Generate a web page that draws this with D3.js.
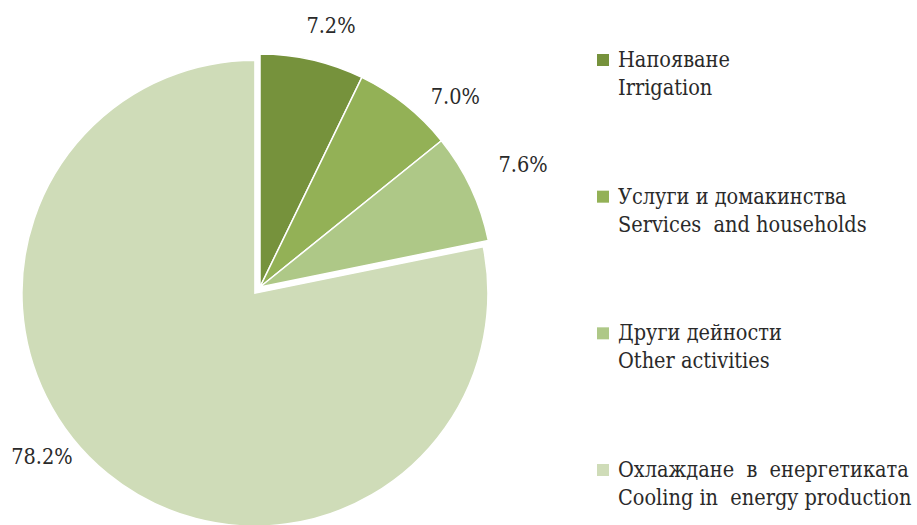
<!DOCTYPE html>
<html>
<head>
<meta charset="utf-8">
<script src="https://cdn.jsdelivr.net/npm/d3@7/dist/d3.min.js"></script>
<style>
  html, body { margin: 0; padding: 0; background: #fff; }
  svg { display: block; }
  svg text { fill: #2a2a2a; white-space: pre; font-family: "DejaVu Serif Condensed", "DejaVu Serif", serif; font-stretch: condensed; }
</style>
</head>
<body>
<svg id="chart" width="917" height="525"></svg>
<script>
// Water use by sector (%)
const categoriesBg = ["Напояване", "Услуги и домакинства", "Други дейности", "Охлаждане  в  енергетиката"];
const categoriesEn = ["Irrigation", "Services  and households", "Other activities", "Cooling in  energy production"];
const shares = [7.2, 7.0, 7.6, 78.2];
const shareLabels = ["7.2%", "7.0%", "7.6%", "78.2%"];

const colors = ["#76923c", "#93b156", "#aec887", "#cfdcb8"];

const width = 917, height = 525;
const cx = 260, cy = 287, radius = 233;
// the large slice is pulled slightly out of the pie
const explode = [0, 0, 0, 8];
// fine placement of the percentage labels around the outer ring
const labelRadius = 272;
const labelNudge = [[10, 4], [26, 22], [17, -7], [-41, -47]];

const svg = d3.select("#chart");

const data = shares.map((v, i) => ({ v, i }));
const pie = d3.pie().value(d => d.v).sort(null);
const arcs = pie(data);

const arc = d3.arc().innerRadius(0).outerRadius(radius);
const labelArc = d3.arc().innerRadius(labelRadius).outerRadius(labelRadius);

const offset = d => {
  const a = (d.startAngle + d.endAngle) / 2;
  const e = explode[d.index];
  return [Math.sin(a) * e, -Math.cos(a) * e];
};

const g = svg.append("g").attr("transform", `translate(${cx},${cy})`);

g.selectAll("path.slice")
  .data(arcs)
  .join("path")
  .attr("class", "slice")
  .attr("d", arc)
  .attr("transform", d => { const o = offset(d); return `translate(${o[0]},${o[1]})`; })
  .attr("fill", d => colors[d.index])
  .attr("stroke", "#fff")
  .attr("stroke-width", 1.5)
  .attr("stroke-linejoin", "miter");

g.selectAll("text.pct")
  .data(arcs)
  .join("text")
  .attr("class", "pct")
  .attr("text-anchor", "middle")
  .attr("font-size", 21.5)
  .attr("x", d => labelArc.centroid(d)[0] + offset(d)[0] + labelNudge[d.index][0])
  .attr("y", d => labelArc.centroid(d)[1] + offset(d)[1] + labelNudge[d.index][1] + 7.5)
  .text(d => shareLabels[d.index]);

// Legend
const legendY = d3.scalePoint().domain(d3.range(categoriesBg.length)).range([67, 477]);
const legend = svg.append("g").attr("transform", "translate(597,0)");
const items = legend.selectAll("g.item")
  .data(categoriesBg)
  .join("g")
  .attr("class", "item")
  .attr("transform", (d, i) => `translate(0,${legendY(i)})`);

items.append("rect")
  .attr("x", 0).attr("y", -13)
  .attr("width", 12).attr("height", 12)
  .attr("fill", (d, i) => colors[i]);

items.append("text")
  .attr("x", 21).attr("y", 0)
  .attr("font-size", 21.5)
  .text(d => d);

items.append("text")
  .attr("x", 21).attr("y", 28)
  .attr("font-size", 21.5)
  .text((d, i) => categoriesEn[i]);
</script>
</body>
</html>
